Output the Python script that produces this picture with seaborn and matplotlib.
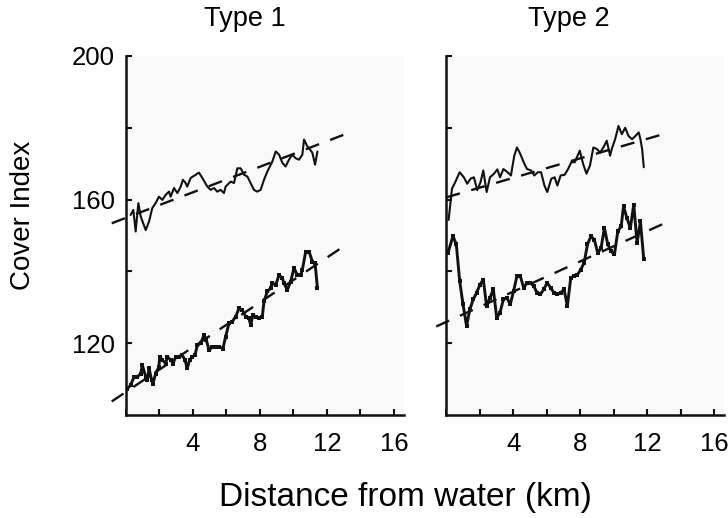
import numpy as np
import matplotlib
matplotlib.use("Agg")
import matplotlib.pyplot as plt
import seaborn as sns
from matplotlib.ticker import MultipleLocator

## values (distance km, cover index)
t1_upper_x = [0.28, 0.44, 0.58, 0.74, 0.88, 1.18, 1.38, 1.57, 1.77, 1.97, 2.17, 2.37, 2.57, 2.67, 2.87,
              3.07, 3.27, 3.40, 3.56, 3.66, 3.86, 4.16, 4.36, 4.56, 4.86, 5.06, 5.26, 5.45, 5.65, 5.85,
              5.95, 6.25, 6.45, 6.65, 6.85, 7.05, 7.25, 7.44, 7.64, 7.84, 8.04, 8.24, 8.44, 8.74, 8.94,
              9.14, 9.34, 9.53, 9.73, 9.93, 10.13, 10.33, 10.53, 10.63, 10.83, 10.93, 11.13, 11.29, 11.43]
t1_upper_y = [155.7, 157.1, 151.1, 159.0, 155.3, 151.5, 153.9, 157.6, 159.0, 160.8, 159.9, 161.3, 162.2, 160.8, 163.2,
              161.8, 163.6, 165.5, 164.6, 163.6, 166.0, 166.9, 167.5, 166.0, 163.6, 162.7, 163.2, 162.2, 162.7, 161.8,
              163.6, 165.0, 164.6, 168.7, 168.7, 166.9, 166.4, 164.6, 162.7, 162.2, 162.7, 165.5, 167.8, 170.6, 173.4,
              172.5, 170.2, 169.2, 171.1, 172.5, 171.5, 171.1, 172.5, 176.7, 174.8, 174.3, 173.0, 169.7, 173.4]

t1_lower_x = [0.08, 0.28, 0.48, 0.68, 0.88, 0.98, 1.18, 1.28, 1.38, 1.53, 1.61, 1.77, 1.97, 2.01, 2.17,
              2.37, 2.47, 2.67, 2.81, 2.97, 3.17, 3.37, 3.52, 3.66, 3.80, 3.96, 4.12, 4.26, 4.46, 4.66,
              4.80, 4.96, 5.16, 5.36, 5.55, 5.79, 5.95, 6.15, 6.35, 6.55, 6.75, 6.95, 7.15, 7.35, 7.44,
              7.58, 7.74, 7.94, 8.14, 8.24, 8.44, 8.64, 8.74, 8.94, 9.14, 9.34, 9.43, 9.63, 9.83, 10.03,
              10.23, 10.43, 10.53, 10.73, 10.93, 11.13, 11.29, 11.43]
t1_lower_y = [107.3, 108.3, 110.6, 110.6, 111.5, 113.9, 110.6, 109.7, 113.0, 109.7, 108.7, 111.5, 113.4, 116.2, 115.3,
              114.3, 116.2, 115.3, 114.3, 116.2, 116.2, 116.6, 115.3, 113.0, 115.3, 116.2, 116.6, 119.4, 119.9, 122.3,
              120.9, 118.0, 119.0, 119.0, 119.0, 118.5, 121.8, 125.5, 126.0, 127.4, 129.7, 129.2, 127.4, 126.9, 125.0,
              127.8, 127.4, 126.9, 127.4, 131.6, 134.4, 135.3, 136.7, 136.2, 139.0, 138.1, 136.7, 134.8, 137.1, 140.9,
              139.0, 139.0, 140.4, 145.5, 145.5, 142.7, 142.3, 135.3]

t2_upper_x = [0.14, 0.34, 0.54, 0.80, 1.05, 1.25, 1.45, 1.65, 1.85, 2.05, 2.21, 2.41, 2.61, 2.85, 3.05,
              3.21, 3.41, 3.66, 3.86, 4.06, 4.22, 4.42, 4.62, 4.82, 5.06, 5.26, 5.46, 5.66, 5.86, 6.03,
              6.27, 6.47, 6.63, 6.83, 7.07, 7.27, 7.47, 7.67, 7.97, 8.17, 8.37, 8.58, 8.78, 8.98, 9.18,
              9.38, 9.58, 9.78, 9.88, 10.08, 10.28, 10.48, 10.68, 10.88, 11.09, 11.29, 11.49, 11.59, 11.69, 11.79]
t2_upper_y = [154.3, 163.0, 164.9, 167.6, 166.2, 164.4, 165.8, 166.2, 162.6, 164.9, 168.1, 162.1, 166.2, 167.2, 168.4,
              166.2, 168.5, 167.6, 166.7, 172.2, 174.5, 172.7, 170.4, 168.5, 168.1, 166.7, 167.6, 167.6, 163.9, 162.1,
              165.8, 166.2, 163.9, 166.7, 166.9, 168.5, 170.4, 170.4, 173.6, 169.9, 167.2, 169.5, 174.5, 174.1, 173.1,
              174.5, 176.4, 172.2, 174.1, 176.8, 180.5, 178.2, 180.0, 177.7, 176.8, 177.7, 178.7, 176.8, 174.1, 169.0]

t2_lower_x = [0.10, 0.40, 0.60, 0.80, 1.00, 1.21, 1.41, 1.61, 1.81, 2.01, 2.21, 2.41, 2.61, 2.81, 3.01,
              3.21, 3.41, 3.62, 3.82, 4.02, 4.22, 4.42, 4.62, 4.82, 5.02, 5.22, 5.42, 5.62, 5.82, 6.03,
              6.23, 6.43, 6.63, 6.83, 7.03, 7.23, 7.43, 7.63, 7.83, 8.03, 8.23, 8.43, 8.64, 8.84, 9.04,
              9.24, 9.44, 9.64, 9.84, 10.04, 10.24, 10.44, 10.58, 10.78, 10.99, 11.19, 11.39, 11.59, 11.79]
t2_lower_y = [145.1, 149.8, 147.5, 137.3, 130.8, 124.8, 129.4, 132.2, 134.0, 136.3, 137.7, 130.3, 132.6, 135.0, 127.1,
              128.5, 132.2, 132.6, 130.8, 134.5, 138.7, 138.7, 135.4, 136.8, 136.8, 135.9, 134.0, 133.6, 135.0, 136.8,
              135.4, 134.0, 133.6, 134.0, 135.0, 130.3, 138.2, 138.7, 139.1, 140.5, 142.4, 147.5, 149.8, 148.8, 145.1,
              146.5, 152.1, 147.5, 145.6, 144.7, 151.2, 152.5, 158.1, 154.9, 152.1, 158.6, 147.9, 153.9, 143.3]

## fitted trend lines: intercept, slope and x extent
t1_trend_x = [-0.85, 13.0]
t1_upper_fit = (154.9, 1.78)
t1_lower_fit = (106.4, 3.12)
t2_trend_x = [0.0, 13.3]
t2_upper_fit = (160.6, 1.36)
t2_lower_fit = (125.9, 2.11)
t2_lower_trend_x = [-0.6, 13.3]

panels = [
    ("Type 1", t1_upper_x, t1_upper_y, t1_lower_x, t1_lower_y, t1_upper_fit, t1_lower_fit, t1_trend_x, t1_trend_x),
    ("Type 2", t2_upper_x, t2_upper_y, t2_lower_x, t2_lower_y, t2_upper_fit, t2_lower_fit, t2_trend_x, t2_lower_trend_x),
]
title_x = [0.337, 0.781]

sns.set_style("ticks")
plt.rcParams["font.family"] = ["Liberation Sans", "DejaVu Sans"]
plt.rcParams["text.color"] = "black"
ink = "#111111"

fig = plt.figure(figsize=(7.28, 5.18), dpi=100)
axes = [fig.add_axes([0.173, 0.199, 0.382, 0.693]),
        fig.add_axes([0.613, 0.199, 0.382, 0.693])]

for i, (ax, p) in enumerate(zip(axes, panels)):
    title, ux, uy, lx, ly, ufit, lfit, utx, ltx = p
    ax.set_facecolor("#f9f9f9")
    sns.lineplot(x=ux, y=uy, ax=ax, color=ink, lw=1.5, sort=False)
    sns.lineplot(x=lx, y=ly, ax=ax, color=ink, lw=2.1, marker="s", markersize=3.5,
                 markeredgewidth=0, sort=False)
    for tx, (b0, b1) in [(utx, ufit), (ltx, lfit)]:
        tx = np.array(tx)
        sns.lineplot(x=tx, y=b0 + b1 * tx, ax=ax, color=ink, lw=1.7)
        ln = ax.lines[-1]
        ln.set_dashes((6, 5))
        ln.set_clip_on(False)

    ax.set_xlim(0, 16.6)
    ax.set_ylim(100, 200)
    sns.despine(ax=ax)
    for s in ["left", "bottom"]:
        ax.spines[s].set_linewidth(1.8)
        ax.spines[s].set_color(ink)
    ax.xaxis.set_major_locator(MultipleLocator(4))
    ax.xaxis.set_minor_locator(MultipleLocator(2))
    ax.set_yticks([120, 160, 200])
    ax.set_yticks([140, 180], minor=True)
    ax.set_xticks([4, 8, 12, 16])
    ax.tick_params(which="both", direction="in", length=4, width=1.5, color=ink,
                   labelsize=18.5, labelcolor="black")
    ax.tick_params(axis="x", pad=12)
    ax.tick_params(axis="y", pad=8)
    if i == 1:
        ax.tick_params(axis="y", labelleft=False)
    ax.set_xlabel("")
    ax.set_ylabel("")
    fig.text(title_x[i], 0.963, title, fontsize=19.5, ha="center", va="center", color="black")

fig.text(0.032, 0.585, "Cover Index", rotation=90, fontsize=20, ha="center", va="center", color="black")
fig.text(0.557, 0.04, "Distance from water (km)", fontsize=24, ha="center", va="center", color="black")

plt.savefig("out.png", dpi=100, facecolor="white")
plt.close()
